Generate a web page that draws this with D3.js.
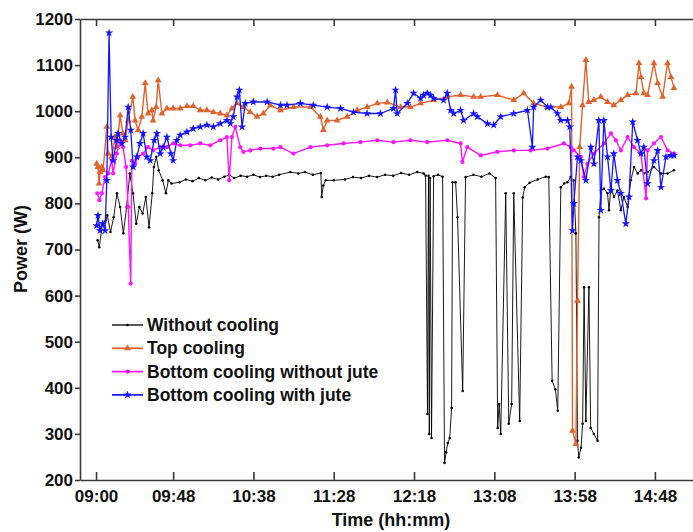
<!DOCTYPE html>
<html>
<head>
<meta charset="utf-8">
<script src="https://cdn.jsdelivr.net/npm/d3@7"></script>
<style>
  body { margin: 0; background: #fff; }
  svg { font-family: "Liberation Sans", Arial, sans-serif; font-weight: bold; }
</style>
</head>
<body>
<svg id="chart" width="693" height="532"></svg>
<script>
// time in minutes after 09:00, power in W
const withoutCooling = [
  [1,720],[2,705],[4,756],[6,763],[7,774],[9,738],[11,770],[13,822],[15,792],[17,735],
  [19,792],[21,865],[23,822],[25,756],[27,792],[29,778],[31,814],[33,748],[35,822],[36,879],
  [37.5,901],[39,872],[41.5,850],[43.5,822],[45,850],[47,843],[52,846],[56,852],[60,848],[64,855],
  [68,850],[72,856],[76,852],[80,858],[83,862],[86,855],[90,860],[94,858],[98,862],[102,857],
  [106,860],[110,858],[114,862],[121,868],[126,865],[130,868],[135,862],[140,866],[140.5,814],[141.5,839],
  [143,850],[148,850],[155,852],[160,857],[165,855],[170,860],[175,857],[180,862],[185,860],[190,866],
  [195,862],[200,868],[204,865],[205.2,860],[206.4,343],[207,860],[207.5,300],[208,855],[208.9,291],[210.2,859],
  [213,862],[215.8,858],[217,237],[218,260],[219,280],[220.2,291],[221.4,356],[222,846],[223.9,846],[225.1,770],
  [228.3,393],[230.1,857],[235,862],[240,858],[245,865],[248.8,855],[250.1,313],[251,365],[252,300],[255.1,822],
  [257,322],[258.8,365],[260.1,822],[263.8,328],[265.7,813],[266.9,835],[270,845],[275,852],[280,858],[281.9,857],
  [284,415],[286,397],[287.5,350],[289.4,835],[291.5,843],[293.5,846],[295.5,857],[297.4,850],[298.8,735],[299.8,285],
  [300.6,249],[302,270],[303,322],[303.9,618],[305,328],[306.9,618],[308,313],[310,300],[312.3,285],[313.2,770],
  [314.4,828],[316.2,832],[318.5,822],[319.4,785],[320.6,835],[322.5,814],[324.7,828],[326.8,785],[328.7,814],[331,792],
  [333,850],[335,879],[337.3,865],[339.4,872],[341.2,865],[343.5,868],[347.5,879],[351.8,865],[356,865],[359.8,872]
];

const topCooling = [
  [0.4,886],[1.2,879],[1.9,843],[2.5,868],[3.6,879],[4.4,872],[6.7,966],[7.5,908],[9.8,901],[11.8,944],
  [12.9,922],[15,991],[16.7,952],[18.1,937],[20,980],[22.9,1031],[24.3,980],[26.2,959],[28.5,988],[30.6,1061],
  [32.4,995],[34.7,1002],[35.5,980],[37.4,1009],[38.7,1067],[41,995],[44.1,1006],[48,1006],[52.4,1006],[56.6,1011],
  [60.5,1011],[64.9,1002],[69,1002],[73,998],[77.3,995],[81.5,991],[84.6,1006],[87.8,1017],[91.7,1009],[96,998],
  [100.2,988],[104.2,995],[108.5,1013],[114.8,1002],[122.9,1009],[133.5,1009],[139.7,988],[141.6,959],[143.9,980],[150.1,980],
  [156.4,988],[162.6,1002],[168.8,1009],[175.1,1017],[181.3,1019],[189.6,1009],[195.8,1009],[202.1,1017],[210.2,1024],[218.7,1031],
  [227,1035],[235.1,1031],[239.5,1031],[249.9,1035],[260.1,1024],[266.3,1039],[272.5,1017],[281.1,1009],[289.4,1009],[294.4,1017],
  [296.1,1053],[296.7,307],[298.8,278],[299.8,589],[301.2,922],[302.9,1013],[305,1111],[306.8,1020],[310,1024],[314.3,1031],
  [318.5,1020],[322.4,1013],[326.8,1024],[331,1035],[336.2,1039],[338.1,1104],[339.3,1074],[341.1,1039],[343.4,1035],[347.4,1104],
  [349.7,1061],[352.8,1031],[355.9,1104],[358,1074],[359.9,1050]
];

const bottomNoJute = [
  [0.8,822],[2.1,807],[3.6,822],[5.6,857],[7.5,865],[9.8,893],[10.6,865],[12.9,908],[15,937],[16.8,922],
  [18.7,879],[20,792],[21.6,626],[22.3,893],[24.3,886],[26.2,901],[29.3,908],[32.4,922],[35.5,915],[39.9,922],
  [44.1,922],[48,930],[52.4,926],[58.6,926],[64.9,930],[71.1,926],[77.3,937],[81.5,944],[82.9,850],[84.6,944],
  [86.7,966],[89.8,922],[91.7,912],[96,915],[102.3,919],[110.4,919],[114.8,922],[122.9,908],[133.5,922],[143.9,926],
  [154,930],[164.6,933],[175.1,937],[185.2,933],[195.8,937],[206.2,933],[218.7,937],[227,930],[228.1,890],[231.2,922],
  [239.5,904],[249.9,912],[260.1,915],[270.7,915],[281.1,919],[291.3,930],[295.6,922],[297.5,915],[301.9,901],[303.7,857],
  [306,886],[310,908],[316.2,930],[320.6,952],[323.7,937],[326.8,915],[331,944],[335,922],[339.3,908],[342.5,811],
  [343.4,915],[347.4,930],[351.8,944],[355.9,915],[359.9,908]
];

const bottomWithJute = [
  [0.4,752],[1.2,774],[2.5,741],[4.2,756],[5.6,741],[6.7,850],[8.1,1170],[9.4,944],[10.6,893],[12.9,937],
  [13.7,952],[16,930],[18.1,944],[20,1009],[21.6,959],[23.1,879],[25.4,901],[27.4,930],[29.3,952],[31.6,901],
  [33.7,893],[36.2,937],[37.9,952],[39.9,908],[41.8,922],[44.1,944],[46.6,908],[48,893],[50.3,937],[52.4,948],
  [56.6,955],[60.5,962],[64.9,966],[69,970],[73,966],[77.3,973],[81.5,980],[83.6,973],[85.4,988],[87.8,1031],
  [89.2,1046],[90.9,966],[92.9,1017],[97.9,1020],[106.5,1020],[114.8,1013],[118.9,1013],[127.2,1017],[135.3,1013],[143.9,1009],
  [152.2,1006],[160.3,998],[168.8,995],[177.1,995],[185.2,1006],[186.5,1046],[187.5,995],[193.8,1017],[197.7,1039],[202.1,1028],
  [203.9,1035],[206.2,1039],[208.3,1035],[210.2,1028],[216.4,1024],[218.7,1039],[220.8,1002],[222.7,995],[227,1002],[228.9,980],
  [235.1,995],[237.4,988],[243.7,973],[247.6,970],[252,988],[260.1,995],[268.6,1002],[271.7,922],[272.5,1009],[276.9,1024],
  [281.1,1009],[283.1,1009],[287.3,995],[289.4,980],[293.6,980],[295,966],[296.7,741],[297.5,800],[299.8,901],[301.9,893],
  [305,850],[308.1,922],[310,886],[313.1,980],[314.3,785],[316.2,980],[318.5,901],[320.6,828],[322.4,908],[324.7,850],
  [326.8,822],[329.9,756],[331.9,814],[334.2,977],[337.2,937],[339.3,908],[341.1,922],[343.4,843],[347.4,893],[349.7,915],
  [351.8,835],[354.9,901],[358,904],[359.9,904]
];

const seriesNames = ['Without cooling', 'Top cooling', 'Bottom cooling without jute', 'Bottom cooling with jute'];
const timeTicks = ['09:00', '09:48', '10:38', '11:28', '12:18', '13:08', '13:58', '14:48'];
const powerTicks = [200, 300, 400, 500, 600, 700, 800, 900, 1000, 1100, 1200];

const toMin = s => { const [h, m] = s.split(':').map(Number); return (h - 9) * 60 + m; };

const svg = d3.select('#chart');
const margin = { top: 19, right: -8, bottom: 52, left: 80 };
const width = +svg.attr('width');
const height = +svg.attr('height');

const x = d3.scaleLinear()
  .domain([-10, 376.7])
  .range([margin.left, width - margin.right]);

const y = d3.scaleLinear()
  .domain([200, 1200])
  .range([height - margin.bottom, margin.top]);

const axisColor = '#3a3a3a';

// bottom axis, ticks inside
const gx = svg.append('g')
  .attr('transform', `translate(0,${y(200)})`)
  .call(d3.axisBottom(x)
    .tickValues(timeTicks.map(toMin))
    .tickFormat((d, i) => timeTicks[i])
    .tickSizeInner(-8).tickSizeOuter(0).tickPadding(10));

// top axis, no labels
const gt = svg.append('g')
  .attr('transform', `translate(0,${y(1200)})`)
  .call(d3.axisTop(x)
    .tickValues(timeTicks.map(toMin))
    .tickFormat('')
    .tickSizeInner(-7).tickSizeOuter(0));

// left axis, ticks outside
const gy = svg.append('g')
  .attr('transform', `translate(${margin.left},0)`)
  .call(d3.axisLeft(y)
    .tickValues(powerTicks)
    .tickFormat(d3.format('d'))
    .tickSizeInner(5).tickSizeOuter(0).tickPadding(2));

[gx, gt, gy].forEach(g => {
  g.select('.domain').attr('stroke', axisColor).attr('stroke-width', 1.6);
  g.selectAll('.tick line').attr('stroke', axisColor).attr('stroke-width', 1.6);
  g.selectAll('text')
    .attr('fill', '#111')
    .style('font-size', '17px')
    .style('font-weight', 'bold')
    .style('font-family', '"Liberation Sans", Arial, sans-serif');
});

svg.append('text')
  .attr('x', 391).attr('y', 526)
  .attr('text-anchor', 'middle')
  .style('font-size', '18px')
  .attr('fill', '#111')
  .text('Time (hh:mm)');

svg.append('text')
  .attr('transform', 'translate(27,249) rotate(-90)')
  .attr('text-anchor', 'middle')
  .style('font-size', '18px')
  .attr('fill', '#111')
  .text('Power (W)');

const styles = [
  { data: withoutCooling, color: '#000000', width: 0.9, symbol: d3.symbolCircle, size: 5 },
  { data: topCooling, color: '#E0622C', width: 1.4, symbol: d3.symbolTriangle, size: 20 },
  { data: bottomNoJute, color: '#FF14FF', width: 1.4, symbol: d3.symbolCircle, size: 14 },
  { data: bottomWithJute, color: '#1414FF', width: 1.3, symbol: d3.symbolStar, size: 22 }
];

const line = d3.line()
  .x(d => x(d[0]))
  .y(d => y(d[1]));

styles.forEach(s => {
  const g = svg.append('g');
  g.append('path')
    .datum(s.data)
    .attr('fill', 'none')
    .attr('stroke', s.color)
    .attr('stroke-width', s.width)
    .attr('stroke-linejoin', 'round')
    .attr('d', line);
  g.selectAll('path.pt')
    .data(s.data)
    .enter()
    .append('path')
    .attr('class', 'pt')
    .attr('transform', d => `translate(${x(d[0])},${y(d[1])})`)
    .attr('d', d3.symbol().type(s.symbol).size(s.size))
    .attr('fill', s.color);
});

// legend
const legend = svg.append('g').attr('transform', 'translate(112,325)');
styles.forEach((s, i) => {
  const row = legend.append('g').attr('transform', `translate(0,${i * 23.3})`);
  row.append('line')
    .attr('x1', 0).attr('x2', 31)
    .attr('stroke', s.color)
    .attr('stroke-width', s.width + 0.4);
  row.append('path')
    .attr('transform', 'translate(15.5,0)')
    .attr('d', d3.symbol().type(s.symbol).size(s.size))
    .attr('fill', s.color);
  row.append('text')
    .attr('x', 35).attr('y', 6)
    .style('font-size', '17.5px')
    .attr('fill', '#111')
    .text(seriesNames[i]);
});
</script>
</body>
</html>
